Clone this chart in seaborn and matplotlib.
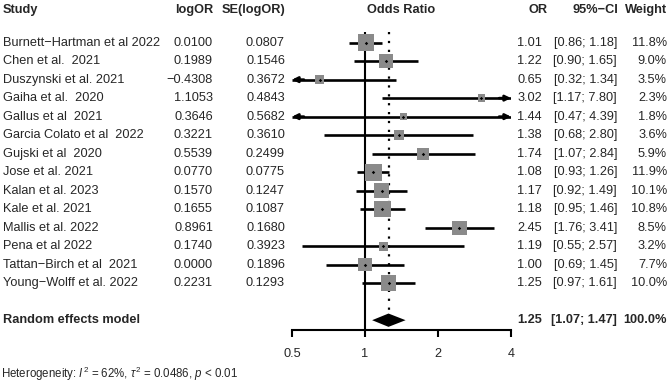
import matplotlib

matplotlib.use("Agg")
import matplotlib.pyplot as plt
import matplotlib.transforms as mtransforms
import numpy as np
import pandas as pd
import seaborn as sns

studies = [
    "Burnett\u2212Hartman et al 2022",
    "Chen et al.  2021",
    "Duszynski et al. 2021",
    "Gaiha et al.  2020",
    "Gallus et al  2021",
    "Garcia Colato et al  2022",
    "Gujski et al  2020",
    "Jose et al. 2021",
    "Kalan et al. 2023",
    "Kale et al. 2021",
    "Mallis et al. 2022",
    "Pena et al 2022",
    "Tattan\u2212Birch et al  2021",
    "Young\u2212Wolff et al. 2022",
]
log_or = [0.0100, 0.1989, -0.4308, 1.1053, 0.3646, 0.3221, 0.5539,
          0.0770, 0.1570, 0.1655, 0.8961, 0.1740, 0.0000, 0.2231]
se_log_or = [0.0807, 0.1546, 0.3672, 0.4843, 0.5682, 0.3610, 0.2499,
             0.0775, 0.1247, 0.1087, 0.1680, 0.3923, 0.1896, 0.1293]
odds_ratio = [1.01, 1.22, 0.65, 3.02, 1.44, 1.38, 1.74, 1.08, 1.17, 1.18, 2.45, 1.19, 1.00, 1.25]
ci_low = [0.86, 0.90, 0.32, 1.17, 0.47, 0.68, 1.07, 0.93, 0.92, 0.95, 1.76, 0.55, 0.69, 0.97]
ci_high = [1.18, 1.65, 1.34, 7.80, 4.39, 2.80, 2.84, 1.26, 1.49, 1.46, 3.41, 2.57, 1.45, 1.61]
weight = [11.8, 9.0, 3.5, 2.3, 1.8, 3.6, 5.9, 11.9, 10.1, 10.8, 8.5, 3.2, 7.7, 10.0]

pooled_or = 1.25
pooled_low = 1.07
pooled_high = 1.47
x_ticks = [0.5, 1, 2, 4]
x_tick_labels = ["0.5", "1", "2", "4"]

W, H = 669, 383
FONT = ["Liberation Sans", "DejaVu Sans"]
FS = 9.2


def main() -> None:
    sns.set_theme(style="white")
    plt.rcParams["font.family"] = FONT
    plt.rcParams["mathtext.fontset"] = "custom"
    plt.rcParams["mathtext.rm"] = "Liberation Sans"
    plt.rcParams["mathtext.it"] = "Liberation Sans:italic"

    df = pd.DataFrame({
        "study": studies, "logOR": log_or, "se": se_log_or, "OR": odds_ratio,
        "lo": ci_low, "hi": ci_high, "w": weight,
    })
    df["row"] = np.arange(len(df))
    pooled_row = len(df) + 1

    fig = plt.figure(figsize=(W / 100, H / 100), dpi=100)
    ax = fig.add_axes([292 / W, 1 - 330 / H, 219 / W, (330 - 31.7) / H])
    ax.set_xscale("log")
    xmin, xmax = 0.5, 4
    ax.set_xlim(xmin, xmax)
    ax.set_ylim(pooled_row + 0.53, -0.59)
    ax.patch.set_alpha(0)

    # reference lines
    ax.axvline(1, color="black", lw=1.5, zorder=1)
    ax.vlines(pooled_or, -0.55, pooled_row - 0.55, color="black", lw=1.6,
              linestyles=(0, (1, 3)), zorder=1)

    # confidence intervals
    lo_c = df["lo"].clip(lower=xmin)
    hi_c = df["hi"].clip(upper=xmax)
    ax.hlines(df["row"], lo_c, hi_c, color="black", lw=1.9, zorder=2)
    for _, r in df.iterrows():
        if r["lo"] < xmin:
            ax.annotate("", xy=(xmin, r["row"]), xytext=(xmin * 1.12, r["row"]),
                        arrowprops=dict(arrowstyle="-|>", color="black", lw=1.9,
                                        mutation_scale=8, shrinkA=0, shrinkB=0))
        if r["hi"] > xmax:
            ax.annotate("", xy=(xmax, r["row"]), xytext=(xmax / 1.12, r["row"]),
                        arrowprops=dict(arrowstyle="-|>", color="black", lw=1.9,
                                        mutation_scale=8, shrinkA=0, shrinkB=0))

    # weight squares (area proportional to weight)
    k = 12.5
    sns.scatterplot(data=df, x="OR", y="row", size="w", sizes=(1.8 * k, 11.9 * k),
                    size_norm=(1.8, 11.9), marker="s", color="#8a8a8a", edgecolor="none",
                    linewidth=0, legend=False, ax=ax, zorder=3)
    ax.scatter(df["OR"], df["row"], marker="D", s=3, color="black", lw=0, zorder=4)

    # pooled diamond
    ax.fill([pooled_low, pooled_or, pooled_high, pooled_or],
            [pooled_row, pooled_row - 0.36, pooled_row, pooled_row + 0.36],
            color="black", lw=0, zorder=3)

    # axis styling
    for s in ["left", "right", "top"]:
        ax.spines[s].set_visible(False)
    ax.spines["bottom"].set_linewidth(1.5)
    ax.spines["bottom"].set_color("black")
    ax.set_xticks(x_ticks)
    ax.set_xticklabels(x_tick_labels, fontsize=FS)
    ax.xaxis.set_minor_locator(matplotlib.ticker.NullLocator())
    ax.tick_params(axis="x", bottom=True, direction="out", length=5, width=1.5,
                   color="black", pad=8)
    ax.set_yticks([])
    ax.set_xlabel("")
    ax.set_ylabel("")

    # text columns
    tr = mtransforms.blended_transform_factory(fig.transFigure, ax.transData)
    hy = 1 - 10 / H
    fig.text(3 / W, hy, "Study", ha="left", va="center", fontsize=FS, fontweight="bold")
    fig.text(213 / W, hy, "logOR", ha="right", va="center", fontsize=FS, fontweight="bold")
    fig.text(285 / W, hy, "SE(logOR)", ha="right", va="center", fontsize=FS, fontweight="bold")
    fig.text(401.5 / W, hy, "Odds Ratio", ha="center", va="center", fontsize=FS, fontweight="bold")
    fig.text(548 / W, hy, "OR", ha="right", va="center", fontsize=FS, fontweight="bold")
    fig.text(618 / W, hy, "95%\u2212CI", ha="right", va="center", fontsize=FS, fontweight="bold")
    fig.text(667 / W, hy, "Weight", ha="right", va="center", fontsize=FS, fontweight="bold")

    for _, r in df.iterrows():
        y = r["row"]
        ax.text(3 / W, y, r["study"], transform=tr, ha="left", va="center", fontsize=FS)
        ax.text(213 / W, y, f"{r['logOR']:.4f}".replace("-", "\u2212"), transform=tr,
                ha="right", va="center", fontsize=FS)
        ax.text(285 / W, y, f"{r['se']:.4f}", transform=tr, ha="right", va="center", fontsize=FS)
        ax.text(542 / W, y, f"{r['OR']:.2f}", transform=tr, ha="right", va="center", fontsize=FS)
        ax.text(617 / W, y, f"[{r['lo']:.2f}; {r['hi']:.2f}]", transform=tr,
                ha="right", va="center", fontsize=FS)
        ax.text(667 / W, y, f"{r['w']:.1f}%", transform=tr, ha="right", va="center", fontsize=FS)

    ax.text(3 / W, pooled_row, "Random effects model", transform=tr, ha="left",
            va="center", fontsize=FS, fontweight="bold")
    ax.text(542 / W, pooled_row, f"{pooled_or:.2f}", transform=tr, ha="right",
            va="center", fontsize=FS, fontweight="bold")
    ax.text(617 / W, pooled_row, f"[{pooled_low:.2f}; {pooled_high:.2f}]", transform=tr,
            ha="right", va="center", fontsize=FS, fontweight="bold")
    ax.text(667 / W, pooled_row, "100.0%", transform=tr, ha="right", va="center",
            fontsize=FS, fontweight="bold")

    fig.text(1 / W, 1 - 374 / H,
             r"Heterogeneity: $I^2$ = 62%, $\tau^2$ = 0.0486, $p$ < 0.01",
             ha="left", va="center", fontsize=8.3)

    fig.savefig("out.png", dpi=100)
    plt.close(fig)


if __name__ == "__main__":
    main()
